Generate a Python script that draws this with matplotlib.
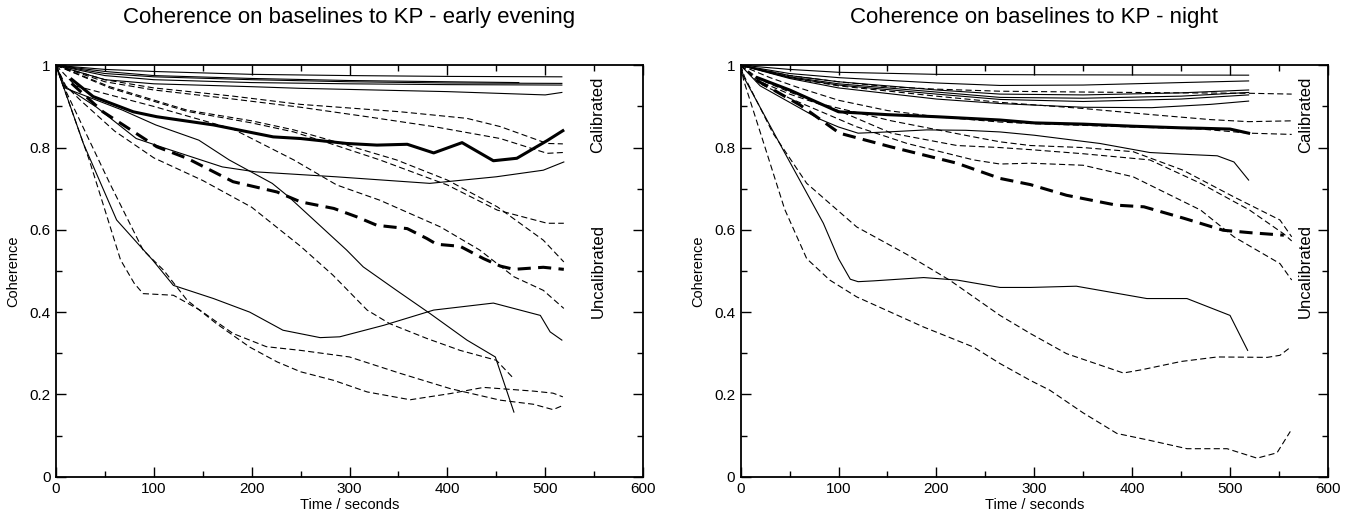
import matplotlib
matplotlib.use("Agg")
import matplotlib.pyplot as plt
from matplotlib.ticker import MultipleLocator, FuncFormatter

plt.rcParams['font.family'] = ['Liberation Sans', 'DejaVu Sans']

# ---------------- Left panel: early evening ----------------
ev_titles = "Coherence on baselines to KP - early evening"

# calibrated (solid thin)
ev_L1_x = [0, 50, 100, 200, 300, 400, 517]
ev_L1_y = [1.0, 0.99, 0.985, 0.978, 0.975, 0.973, 0.972]
ev_L2_x = [0, 50, 100, 200, 300, 400, 473]
ev_L2_y = [1.0, 0.985, 0.975, 0.968, 0.963, 0.960, 0.958]
ev_L3_x = [0, 50, 100, 200, 300, 400, 517]
ev_L3_y = [1.0, 0.98, 0.972, 0.965, 0.960, 0.957, 0.956]
ev_L4_x = [0, 50, 100, 200, 300, 400, 517]
ev_L4_y = [1.0, 0.975, 0.965, 0.958, 0.955, 0.953, 0.952]
ev_L5_x = [0, 50, 100, 200, 250, 400, 500, 517]
ev_L5_y = [1.0, 0.965, 0.955, 0.948, 0.944, 0.936, 0.928, 0.934]
ev_S1_x = [0, 7, 41, 82, 112, 170, 204, 286, 382, 450, 498, 519]
ev_S1_y = [1.0, 0.952, 0.899, 0.822, 0.798, 0.753, 0.741, 0.729, 0.713, 0.729, 0.745, 0.765]
ev_S2_x = [0, 10, 68, 102, 146, 177, 221, 238, 286, 297, 314, 348, 382, 420, 449, 468]
ev_S2_y = [1.0, 0.944, 0.891, 0.855, 0.818, 0.770, 0.713, 0.680, 0.575, 0.551, 0.510, 0.453, 0.397, 0.332, 0.291, 0.157]
ev_S3_x = [0, 28, 62, 99, 120, 161, 198, 232, 270, 290, 335, 386, 447, 495, 505, 517]
ev_S3_y = [1.0, 0.81, 0.624, 0.526, 0.465, 0.433, 0.400, 0.356, 0.338, 0.340, 0.368, 0.405, 0.422, 0.392, 0.352, 0.332]

# uncalibrated (dashed thin)
ev_A_x = [0, 50, 100, 181, 250, 352, 420, 454, 502, 518]
ev_A_y = [1.0, 0.965, 0.945, 0.925, 0.905, 0.887, 0.871, 0.851, 0.810, 0.809]
ev_B_x = [0, 50, 100, 181, 250, 318, 386, 454, 502, 518]
ev_B_y = [1.0, 0.96, 0.94, 0.918, 0.898, 0.875, 0.851, 0.822, 0.786, 0.788]
ev_C1_x = [0, 55, 134, 200, 243, 280, 348, 400, 451, 498, 519]
ev_C1_y = [1.0, 0.948, 0.891, 0.865, 0.843, 0.818, 0.770, 0.721, 0.656, 0.575, 0.522]
ev_C2_x = [0, 55, 134, 200, 243, 280, 331, 400, 451, 502, 519]
ev_C2_y = [1.0, 0.945, 0.888, 0.860, 0.838, 0.810, 0.770, 0.709, 0.648, 0.616, 0.616]
ev_D4_x = [0, 20, 100, 181, 243, 287, 331, 393, 433, 468, 498, 519]
ev_D4_y = [1.0, 0.95, 0.90, 0.845, 0.770, 0.709, 0.672, 0.607, 0.551, 0.486, 0.453, 0.409]
ev_D3_x = [0, 10, 25, 60, 100, 150, 200, 250, 283, 318, 341, 379, 413, 450, 468]
ev_D3_y = [1.0, 0.95, 0.915, 0.84, 0.775, 0.72, 0.655, 0.56, 0.49, 0.405, 0.372, 0.336, 0.307, 0.283, 0.238]
ev_D1_x = [0, 8, 55, 89, 110, 134, 164, 198, 226, 250, 284, 318, 362, 403, 437, 488, 508, 518]
ev_D1_y = [1.0, 0.948, 0.713, 0.551, 0.502, 0.429, 0.372, 0.315, 0.279, 0.255, 0.234, 0.206, 0.187, 0.202, 0.217, 0.208, 0.203, 0.194]
ev_D2_x = [0, 5, 34, 66, 80, 89, 120, 147, 181, 215, 250, 300, 352, 403, 454, 488, 508, 518]
ev_D2_y = [1.0, 0.965, 0.77, 0.527, 0.47, 0.445, 0.441, 0.405, 0.348, 0.316, 0.307, 0.291, 0.251, 0.214, 0.186, 0.176, 0.163, 0.173]

# means (thick)
ev_cal_x = [16, 38, 79, 103, 161, 222, 250, 297, 328, 359, 386, 415, 447, 471, 502, 518]
ev_cal_y = [0.966, 0.924, 0.887, 0.875, 0.855, 0.826, 0.822, 0.810, 0.806, 0.808, 0.787, 0.812, 0.768, 0.774, 0.817, 0.841]
ev_unc_x = [16, 48, 103, 134, 181, 226, 250, 284, 307, 328, 359, 379, 389, 413, 437, 454, 468, 498, 519]
ev_unc_y = [0.956, 0.887, 0.802, 0.774, 0.717, 0.692, 0.668, 0.652, 0.632, 0.611, 0.603, 0.579, 0.565, 0.560, 0.530, 0.512, 0.504, 0.509, 0.504]

# ---------------- Right panel: night ----------------
nt_titles = "Coherence on baselines to KP - night"

nt_T1_x = [0, 50, 100, 200, 300, 519]
nt_T1_y = [1.0, 0.99, 0.983, 0.978, 0.977, 0.976]
nt_T2_x = [0, 50, 100, 200, 265, 350, 450, 519]
nt_T2_y = [1.0, 0.98, 0.97, 0.957, 0.951, 0.952, 0.958, 0.962]
nt_T3_x = [0, 50, 100, 200, 265, 350, 450, 519]
nt_T3_y = [1.0, 0.975, 0.96, 0.94, 0.930, 0.928, 0.933, 0.940]
nt_T4_x = [0, 50, 100, 200, 265, 350, 450, 519]
nt_T4_y = [1.0, 0.972, 0.955, 0.935, 0.922, 0.920, 0.925, 0.934]
nt_T5_x = [0, 50, 100, 200, 265, 350, 450, 519]
nt_T5_y = [1.0, 0.97, 0.952, 0.930, 0.917, 0.912, 0.918, 0.928]
nt_T6_x = [0, 50, 100, 200, 265, 350, 420, 480, 519]
nt_T6_y = [1.0, 0.968, 0.945, 0.918, 0.907, 0.898, 0.897, 0.905, 0.913]
nt_R_x = [0, 20, 50, 80, 100, 120, 150, 190, 230, 265, 300, 367, 418, 450, 487, 504, 519]
nt_R_y = [1.0, 0.95, 0.91, 0.87, 0.85, 0.835, 0.838, 0.843, 0.842, 0.838, 0.83, 0.81, 0.788, 0.784, 0.78, 0.765, 0.721]
nt_Q_x = [0, 3, 43.5, 84.5, 100, 112, 120, 136, 187, 221, 265, 296, 343, 415, 456, 500, 518]
nt_Q_y = [1.0, 0.972, 0.794, 0.616, 0.53, 0.48, 0.474, 0.476, 0.484, 0.478, 0.46, 0.46, 0.463, 0.433, 0.433, 0.392, 0.307]

nt_H1_x = [0, 50, 100, 150, 200, 265, 350, 450, 519, 563]
nt_H1_y = [1.0, 0.975, 0.96, 0.948, 0.942, 0.937, 0.935, 0.933, 0.932, 0.930]
nt_H2_x = [0, 50, 100, 200, 265, 350, 420, 480, 519, 563]
nt_H2_y = [1.0, 0.97, 0.95, 0.925, 0.91, 0.895, 0.88, 0.868, 0.863, 0.865]
nt_H3_x = [0, 30, 60, 100, 150, 200, 265, 300, 400, 470, 520, 563]
nt_H3_y = [1.0, 0.97, 0.945, 0.915, 0.89, 0.875, 0.862, 0.858, 0.85, 0.845, 0.835, 0.832]
nt_E1_x = [0, 20, 50, 84, 154, 238, 265, 296, 350, 401, 452, 504, 551, 563]
nt_E1_y = [1.0, 0.965, 0.935, 0.905, 0.865, 0.826, 0.814, 0.805, 0.80, 0.79, 0.745, 0.68, 0.624, 0.583]
nt_E2_x = [0, 20, 50, 100, 154, 221, 265, 296, 350, 418, 470, 520, 555, 563]
nt_E2_y = [1.0, 0.96, 0.93, 0.89, 0.835, 0.805, 0.80, 0.795, 0.785, 0.77, 0.713, 0.648, 0.59, 0.573]
nt_E3_x = [0, 20, 50, 118, 170, 238, 265, 296, 350, 401, 470, 504, 551, 563]
nt_E3_y = [1.0, 0.955, 0.92, 0.851, 0.81, 0.77, 0.76, 0.762, 0.757, 0.729, 0.648, 0.583, 0.518, 0.478]
nt_F1_x = [0, 4, 33, 67.5, 118.6, 170, 214, 265, 296, 333, 391, 410, 450, 487, 538, 551, 562]
nt_F1_y = [1.0, 0.972, 0.835, 0.713, 0.607, 0.54, 0.477, 0.392, 0.348, 0.299, 0.252, 0.26, 0.28, 0.291, 0.29, 0.295, 0.315]
nt_F2_x = [0, 3, 25, 45, 67.5, 91, 118.6, 186.7, 238, 265, 296, 316, 350, 384.5, 418.5, 456, 497, 527.6, 548, 561.6]
nt_F2_y = [1.0, 0.964, 0.80, 0.65, 0.53, 0.478, 0.437, 0.364, 0.315, 0.275, 0.234, 0.21, 0.155, 0.105, 0.088, 0.068, 0.068, 0.045, 0.058, 0.11]

nt_cal_x = [17, 50, 100, 150, 200, 265, 300, 350, 400, 450, 470, 500, 519]
nt_cal_y = [0.97, 0.94, 0.887, 0.88, 0.875, 0.867, 0.86, 0.857, 0.852, 0.848, 0.847, 0.845, 0.835]
nt_unc_x = [16, 61, 101, 153, 221, 265, 296, 333, 384, 412, 453, 493, 521, 555]
nt_unc_y = [0.964, 0.903, 0.835, 0.802, 0.762, 0.725, 0.71, 0.684, 0.66, 0.656, 0.628, 0.599, 0.593, 0.587]

ev_solid = [(ev_L1_x, ev_L1_y), (ev_L2_x, ev_L2_y), (ev_L3_x, ev_L3_y), (ev_L4_x, ev_L4_y),
            (ev_L5_x, ev_L5_y), (ev_S1_x, ev_S1_y), (ev_S2_x, ev_S2_y), (ev_S3_x, ev_S3_y)]
ev_dashed = [(ev_A_x, ev_A_y), (ev_B_x, ev_B_y), (ev_C1_x, ev_C1_y), (ev_C2_x, ev_C2_y),
             (ev_D4_x, ev_D4_y), (ev_D3_x, ev_D3_y), (ev_D1_x, ev_D1_y), (ev_D2_x, ev_D2_y)]
nt_solid = [(nt_T1_x, nt_T1_y), (nt_T2_x, nt_T2_y), (nt_T3_x, nt_T3_y), (nt_T4_x, nt_T4_y),
            (nt_T5_x, nt_T5_y), (nt_T6_x, nt_T6_y), (nt_R_x, nt_R_y), (nt_Q_x, nt_Q_y)]
nt_dashed = [(nt_H1_x, nt_H1_y), (nt_H2_x, nt_H2_y), (nt_H3_x, nt_H3_y), (nt_E1_x, nt_E1_y),
             (nt_E2_x, nt_E2_y), (nt_E3_x, nt_E3_y), (nt_F1_x, nt_F1_y), (nt_F2_x, nt_F2_y)]

x_ticks = [0, 100, 200, 300, 400, 500, 600]
y_ticks = [0, 0.2, 0.4, 0.6, 0.8, 1.0]

fig = plt.figure(figsize=(13.55, 5.17), dpi=100)
ax1 = fig.add_axes([0.0413, 0.078, 0.4333, 0.7957])
ax2 = fig.add_axes([0.5466, 0.078, 0.4334, 0.7957])

def fmt(v, pos):
    return ('%g' % v)

panels = [
    (ax1, ev_titles, ev_solid, ev_dashed, (ev_cal_x, ev_cal_y), (ev_unc_x, ev_unc_y), 554),
    (ax2, nt_titles, nt_solid, nt_dashed, (nt_cal_x, nt_cal_y), (nt_unc_x, nt_unc_y), 577),
]

for ax, title, solid, dashed, cal, unc, tx in panels:
    for xs, ys in solid:
        ax.plot(xs, ys, color='black', lw=0.8, solid_joinstyle='round')
    for xs, ys in dashed:
        ax.plot(xs, ys, color='black', lw=0.8, dashes=(5.5, 3.0))
    ax.plot(cal[0], cal[1], color='black', lw=2.2, solid_joinstyle='round')
    ax.plot(unc[0], unc[1], color='black', lw=2.2, dashes=(4.3, 2.4))
    ax.set_xlim(0, 600)
    ax.set_ylim(0, 1)
    ax.set_xticks(x_ticks)
    ax.set_yticks(y_ticks)
    ax.xaxis.set_minor_locator(MultipleLocator(50))
    ax.yaxis.set_minor_locator(MultipleLocator(0.1))
    ax.xaxis.set_major_formatter(FuncFormatter(fmt))
    ax.yaxis.set_major_formatter(FuncFormatter(fmt))
    ax.tick_params(which='both', direction='in', top=True, right=True, width=1.0, labelsize=11, pad=4)
    ax.tick_params(which='major', length=7.5)
    ax.tick_params(which='minor', length=4)
    for sp in ax.spines.values():
        sp.set_linewidth(1.3)
    ax.set_xlabel('Time / seconds', fontsize=10.5)
    ax.set_ylabel('Coherence', fontsize=10.5)
    ax.xaxis.set_label_coords(0.5, -0.052)
    ax.yaxis.set_label_coords(-0.06, 0.5)
    ax.text(0.5, 1.115, title, transform=ax.transAxes, ha='center', va='center', fontsize=16)
    ax.text(tx, 0.88, 'Calibrated', rotation=90, ha='center', va='center', fontsize=12)
    ax.text(tx, 0.50, 'Uncalibrated', rotation=90, ha='center', va='center', fontsize=12)

fig.savefig('out.png', dpi=100)
